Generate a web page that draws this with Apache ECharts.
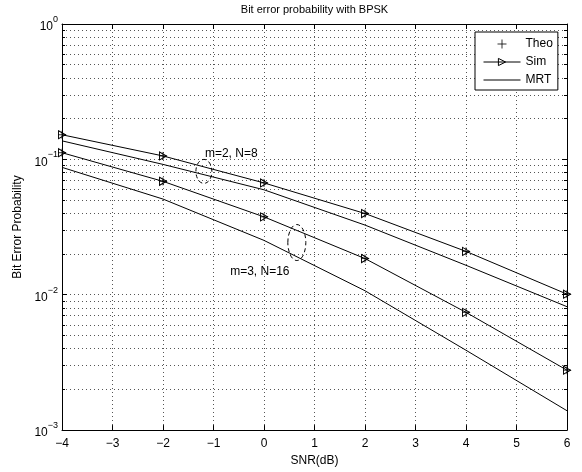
<!DOCTYPE html>
<html>
<head>
<meta charset="utf-8">
<script src="https://cdn.jsdelivr.net/npm/echarts@6/dist/echarts.min.js"></script>
<style>
html,body{margin:0;padding:0;background:#fff;}
#c{width:582px;height:472px;}
</style>
</head>
<body>
<div id="c"></div>
<script>
// ---- data ----
const snrDb = [-4, -2, 0, 2, 4, 6];
const theoM2N8 = [0.152, 0.106, 0.067, 0.0398, 0.0209, 0.0101];
const simM2N8  = [0.152, 0.106, 0.067, 0.0398, 0.0209, 0.0101];
const mrtM2N8  = [0.137, 0.0918, 0.0596, 0.0327, 0.0165, 0.00816];
const theoM3N16 = [0.112, 0.0688, 0.0376, 0.0185, 0.00741, 0.00277];
const simM3N16  = [0.112, 0.0688, 0.0376, 0.0185, 0.00741, 0.00277];
const mrtM3N16  = [0.0873, 0.0509, 0.0252, 0.0107, 0.00389, 0.00139];
const yMinorTicks = [0.002,0.003,0.004,0.005,0.006,0.007,0.008,0.009,
                     0.02,0.03,0.04,0.05,0.06,0.07,0.08,0.09,
                     0.2,0.3,0.4,0.5,0.6,0.7,0.8,0.9];
const legendNames = ['Theo', 'Sim', 'MRT'];
const annotations = [
  {text: 'm=2, N=8',  tx: -1.17, ty: 0.110,  ex: -1.19, ey: 0.0815, rx: 8, ry: 12},
  {text: 'm=3, N=16', tx: -0.67, ty: 0.0149, ex: 0.65,  ey: 0.0243, rx: 9, ry: 18}
];

const FONT = '"Liberation Sans", Arial, Helvetica, sans-serif';
const pair = arr => arr.map((v, i) => [snrDb[i], v]);
const PLUS = 'path://M5,0L5,10M0,5L10,5';
const TRI = 'path://M0,0L8,4L0,8Z';
const xMin = -4, xMax = 6;
const tickLen = 3 / 50.5;

function lineSeries(name, arr, withSymbol) {
  return {
    name: name, type: 'line', data: pair(arr), z: 3,
    symbol: withSymbol ? TRI : 'none',
    symbolSize: [7, 8],
    showAllSymbol: true,
    itemStyle: {color: 'rgba(0,0,0,0)', borderColor: '#000', borderWidth: 1},
    lineStyle: {color: '#000', width: 1},
    animation: false, clip: false
  };
}
function theoSeries(arr) {
  return {
    name: 'Theo', type: 'scatter', data: pair(arr), z: 4,
    symbol: PLUS, symbolSize: 8,
    itemStyle: {color: 'rgba(0,0,0,0)', borderColor: '#000', borderWidth: 1},
    animation: false
  };
}
const minorLines = [];
yMinorTicks.forEach(v => {
  minorLines.push([{coord: [xMin, v]}, {coord: [xMax, v]}]);
});
const minorTickMarks = [];
yMinorTicks.forEach(v => {
  minorTickMarks.push([{coord: [xMin, v]}, {coord: [xMin + tickLen, v]}]);
  minorTickMarks.push([{coord: [xMax - tickLen, v]}, {coord: [xMax, v]}]);
});

const supFmt = v => {
  const e = Math.round(Math.log10(v));
  return '{b|10}{s|' + (e < 0 ? '\u2212' + (-e) : e) + '}';
};
const richY = {
  b: {fontSize: 12, fontFamily: FONT, color: '#000', verticalAlign: 'bottom', lineHeight: 18},
  s: {fontSize: 9, fontFamily: FONT, color: '#000', verticalAlign: 'top', lineHeight: 10}
};

const chart = echarts.init(document.getElementById('c'), null, {renderer: 'canvas'});
const option = {
  backgroundColor: '#fff',
  animation: false,
  textStyle: {fontFamily: FONT},
  grid: {left: 62, right: 15, top: 24, bottom: 41, show: false},
  legend: {
    z: 20,
    data: [
      {name: 'Theo', itemStyle: {borderWidth: 1}},
      {name: 'Sim', itemStyle: {borderWidth: 1}, lineStyle: {width: 1, color: '#000', opacity: 1}},
      {name: 'MRT', itemStyle: {color: 'rgba(0,0,0,0)', borderColor: 'rgba(0,0,0,0)'},
       lineStyle: {width: 1, color: '#000', opacity: 1, type: 'solid'}}
    ],
    orient: 'vertical', left: 475, top: 32,
    padding: [5, 5, 3, 8], itemGap: 4, itemWidth: 37, itemHeight: 9,
    backgroundColor: '#fff', borderColor: '#000', borderWidth: 1,
    textStyle: {fontSize: 12, fontFamily: FONT, color: '#000', lineHeight: 14},
    selectedMode: false
  },
  xAxis: [{
    type: 'value', min: xMin, max: xMax, interval: 1, position: 'bottom',
    name: 'SNR(dB)', nameLocation: 'middle', nameGap: 23,
    nameTextStyle: {fontSize: 12, fontFamily: FONT, color: '#000'},
    axisLine: {show: true, onZero: false, lineStyle: {color: '#000', width: 1}},
    axisTick: {show: true, inside: true, length: 5, lineStyle: {color: '#000'}},
    axisLabel: {fontSize: 12, fontFamily: FONT, color: '#000', margin: 8,
      formatter: v => (v < 0 ? '\u2212' + (-v) : '' + v)},
    splitLine: {show: true, lineStyle: {color: '#555', width: 1, type: [1, 3]}}
  }, {
    type: 'value', min: xMin, max: xMax, interval: 1, position: 'top',
    axisLine: {show: true, onZero: false, lineStyle: {color: '#000', width: 1}},
    axisTick: {show: true, inside: true, length: 5, lineStyle: {color: '#000'}},
    axisLabel: {show: false}, splitLine: {show: false}
  }],
  yAxis: [{
    type: 'log', logBase: 10, min: 0.001, max: 1, position: 'left',
    name: 'Bit Error Probability', nameLocation: 'middle', nameGap: 38,
    nameTextStyle: {fontSize: 12, fontFamily: FONT, color: '#000'},
    axisLine: {show: true, onZero: false, lineStyle: {color: '#000', width: 1}},
    axisTick: {show: true, inside: true, length: 5, lineStyle: {color: '#000'}},
    axisLabel: {margin: 4, formatter: supFmt, rich: richY},
    splitLine: {show: true, lineStyle: {color: '#555', width: 1, type: [1, 3]}}
  }, {
    type: 'log', logBase: 10, min: 0.001, max: 1, position: 'right',
    axisLine: {show: true, onZero: false, lineStyle: {color: '#000', width: 1}},
    axisTick: {show: true, inside: true, length: 5, lineStyle: {color: '#000'}},
    axisLabel: {show: false}, splitLine: {show: false}
  }],
  series: [
    {
      name: '_grid', type: 'line', data: [], z: 1, silent: true,
      markLine: {
        z: 1, silent: true, symbol: ['none', 'none'], animation: false,
        label: {show: false},
        lineStyle: {color: '#555', width: 1, type: [1, 3]},
        data: minorLines
      }
    },
    {
      name: '_ticks', type: 'line', data: [], z: 2, silent: true,
      markLine: {
        z: 2, silent: true, symbol: ['none', 'none'], animation: false,
        label: {show: false},
        lineStyle: {color: '#000', width: 1, type: 'solid'},
        data: minorTickMarks
      }
    },
    theoSeries(theoM2N8),
    lineSeries('Sim', simM2N8, true),
    lineSeries('MRT', mrtM2N8, false),
    theoSeries(theoM3N16),
    lineSeries('Sim', simM3N16, true),
    lineSeries('MRT', mrtM3N16, false)
  ]
};
chart.setOption(option);

// annotations & title placed through the chart's own coordinate system
const graphics = [];
const c1 = chart.convertToPixel({gridIndex: 0}, [1, 1]);
graphics.push({
  type: 'text', x: c1[0], y: 10,
  style: {text: 'Bit error probability with BPSK', fontSize: 11, fontFamily: FONT,
          fill: '#000', textAlign: 'center', textVerticalAlign: 'middle'}
});
annotations.forEach(a => {
  const tp = chart.convertToPixel({gridIndex: 0}, [a.tx, a.ty]);
  const ep = chart.convertToPixel({gridIndex: 0}, [a.ex, a.ey]);
  graphics.push({
    type: 'text', x: tp[0], y: tp[1], z: 10,
    style: {text: a.text, fontSize: 12, fontFamily: FONT, fill: '#000',
            textAlign: 'left', textVerticalAlign: 'middle'}
  });
  graphics.push({
    type: 'ellipse', z: 10,
    shape: {cx: ep[0], cy: ep[1], rx: a.rx, ry: a.ry},
    style: {fill: null, stroke: '#000', lineWidth: 1, lineDash: [4, 3]}
  });
});
chart.setOption({graphic: graphics});
</script>
</body>
</html>
